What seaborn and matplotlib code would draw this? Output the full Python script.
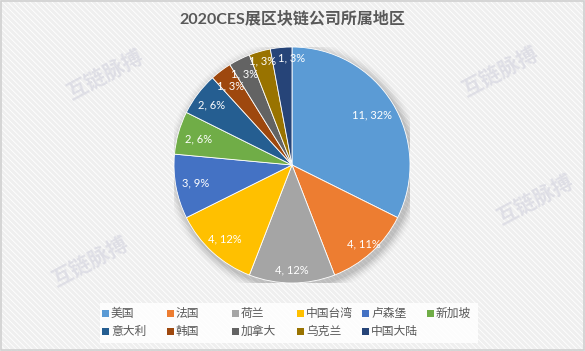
import numpy as np
import matplotlib.pyplot as plt
import seaborn as sns
from matplotlib.patches import Rectangle

# data
regions = ['美国', '法国', '荷兰', '中国台湾', '卢森堡', '新加坡',
           '意大利', '韩国', '加拿大', '乌克兰', '中国大陆']
counts = [11, 4, 4, 4, 3, 2, 2, 1, 1, 1, 1]
pct_labels = ['32%', '11%', '12%', '12%', '9%', '6%', '6%', '3%', '3%', '3%', '3%']
colors = ['#5B9BD5', '#ED7D31', '#A5A5A5', '#FFC000', '#4472C4', '#70AD47',
          '#255E91', '#9E480E', '#636363', '#997300', '#264478']

sns.set_theme(style='white')
plt.rcParams['font.family'] = ['Noto Sans CJK SC', 'DejaVu Sans']
latin = ['Lato', 'Noto Sans CJK SC', 'DejaVu Sans']

W, H = 585, 351
fig = plt.figure(figsize=(W / 100, H / 100), dpi=100)

# background with fine diagonal texture
plt.rcParams['hatch.linewidth'] = 0.6
plt.rcParams['hatch.color'] = '#ffffff'
bg = Rectangle((0, 0), 1, 1, transform=fig.transFigure, facecolor='#efefef',
               edgecolor='#ffffff', hatch='\\\\\\\\\\\\', lw=0, zorder=-10)
fig.add_artist(bg)
fig.add_artist(Rectangle((0.001, 0.002), 0.997, 0.995, transform=fig.transFigure,
                         fill=False, edgecolor='#d0d0d0', lw=1.2))

# faint watermarks
for (x, y) in [(105, 75), (500, 72), (90, 262), (535, 200)]:
    fig.text(x / W, 1 - y / H, '互链脉搏', fontsize=15, color='#cfcfdc', alpha=0.55,
             rotation=28, ha='center', va='center', fontweight='bold')

fig.text(292 / W, 1 - 18 / H, '2020CES展区块链公司所属地区', fontsize=11.5,
         fontweight='bold', color='#595959', ha='center', va='center', family=latin)

cx, cy, r = 292, 165, 118
ax = fig.add_axes([(cx - r) / W, (H - cy - r) / H, 2 * r / W, 2 * r / H])

# soft shadow behind the pie
for i, a in enumerate(np.linspace(0.06, 0.01, 6)):
    ax.add_patch(plt.Circle((0.02, -0.03), 1.0 + 0.015 * (i + 1), color='#000000',
                            alpha=a, lw=0, zorder=0))

wedges, _ = ax.pie(counts, colors=colors, startangle=90, counterclock=False,
                   wedgeprops=dict(edgecolor='white', linewidth=0.6))
for w in wedges:
    w.set_zorder(2)

# label radius / angle nudges so the small slices at the top don't collide
label_r = [0.80, 0.90, 0.89, 0.85, 0.83, 0.82, 0.85, 0.85, 0.87, 0.92, 0.91]
label_rot = [0, 0, 0, 0, 0, 0, 0, 1, 1, 0, -5]
for w, n, p, d, s in zip(wedges, counts, pct_labels, label_r, label_rot):
    mid = np.deg2rad((w.theta1 + w.theta2) / 2 + s)
    ax.text(d * np.cos(mid), d * np.sin(mid), f'{n}, {p}', color='white',
            fontsize=8, ha='center', va='center', zorder=3, family=latin)

ax.set_xlim(-1, 1)
ax.set_ylim(-1, 1)
ax.axis('off')

# legend laid out in a fixed grid like the source
fig.add_artist(Rectangle((100 / W, 1 - 343 / H), 378 / W, 40 / H, transform=fig.transFigure,
                         facecolor='white', edgecolor='none', alpha=0.85))
col_x = [105, 170, 235, 300, 365, 430]
row_y = [313, 331]
for i, (name, c) in enumerate(zip(regions, colors)):
    x = col_x[i % 6]
    y = row_y[i // 6]
    fig.add_artist(Rectangle(((x - 3.5) / W, 1 - (y + 3.5) / H), 7 / W, 7 / H,
                             transform=fig.transFigure, facecolor=c, edgecolor='none'))
    fig.text((x + 6) / W, 1 - y / H, name, fontsize=8.5, color='#595959',
             ha='left', va='center')

fig.savefig('out.png', dpi=100)
